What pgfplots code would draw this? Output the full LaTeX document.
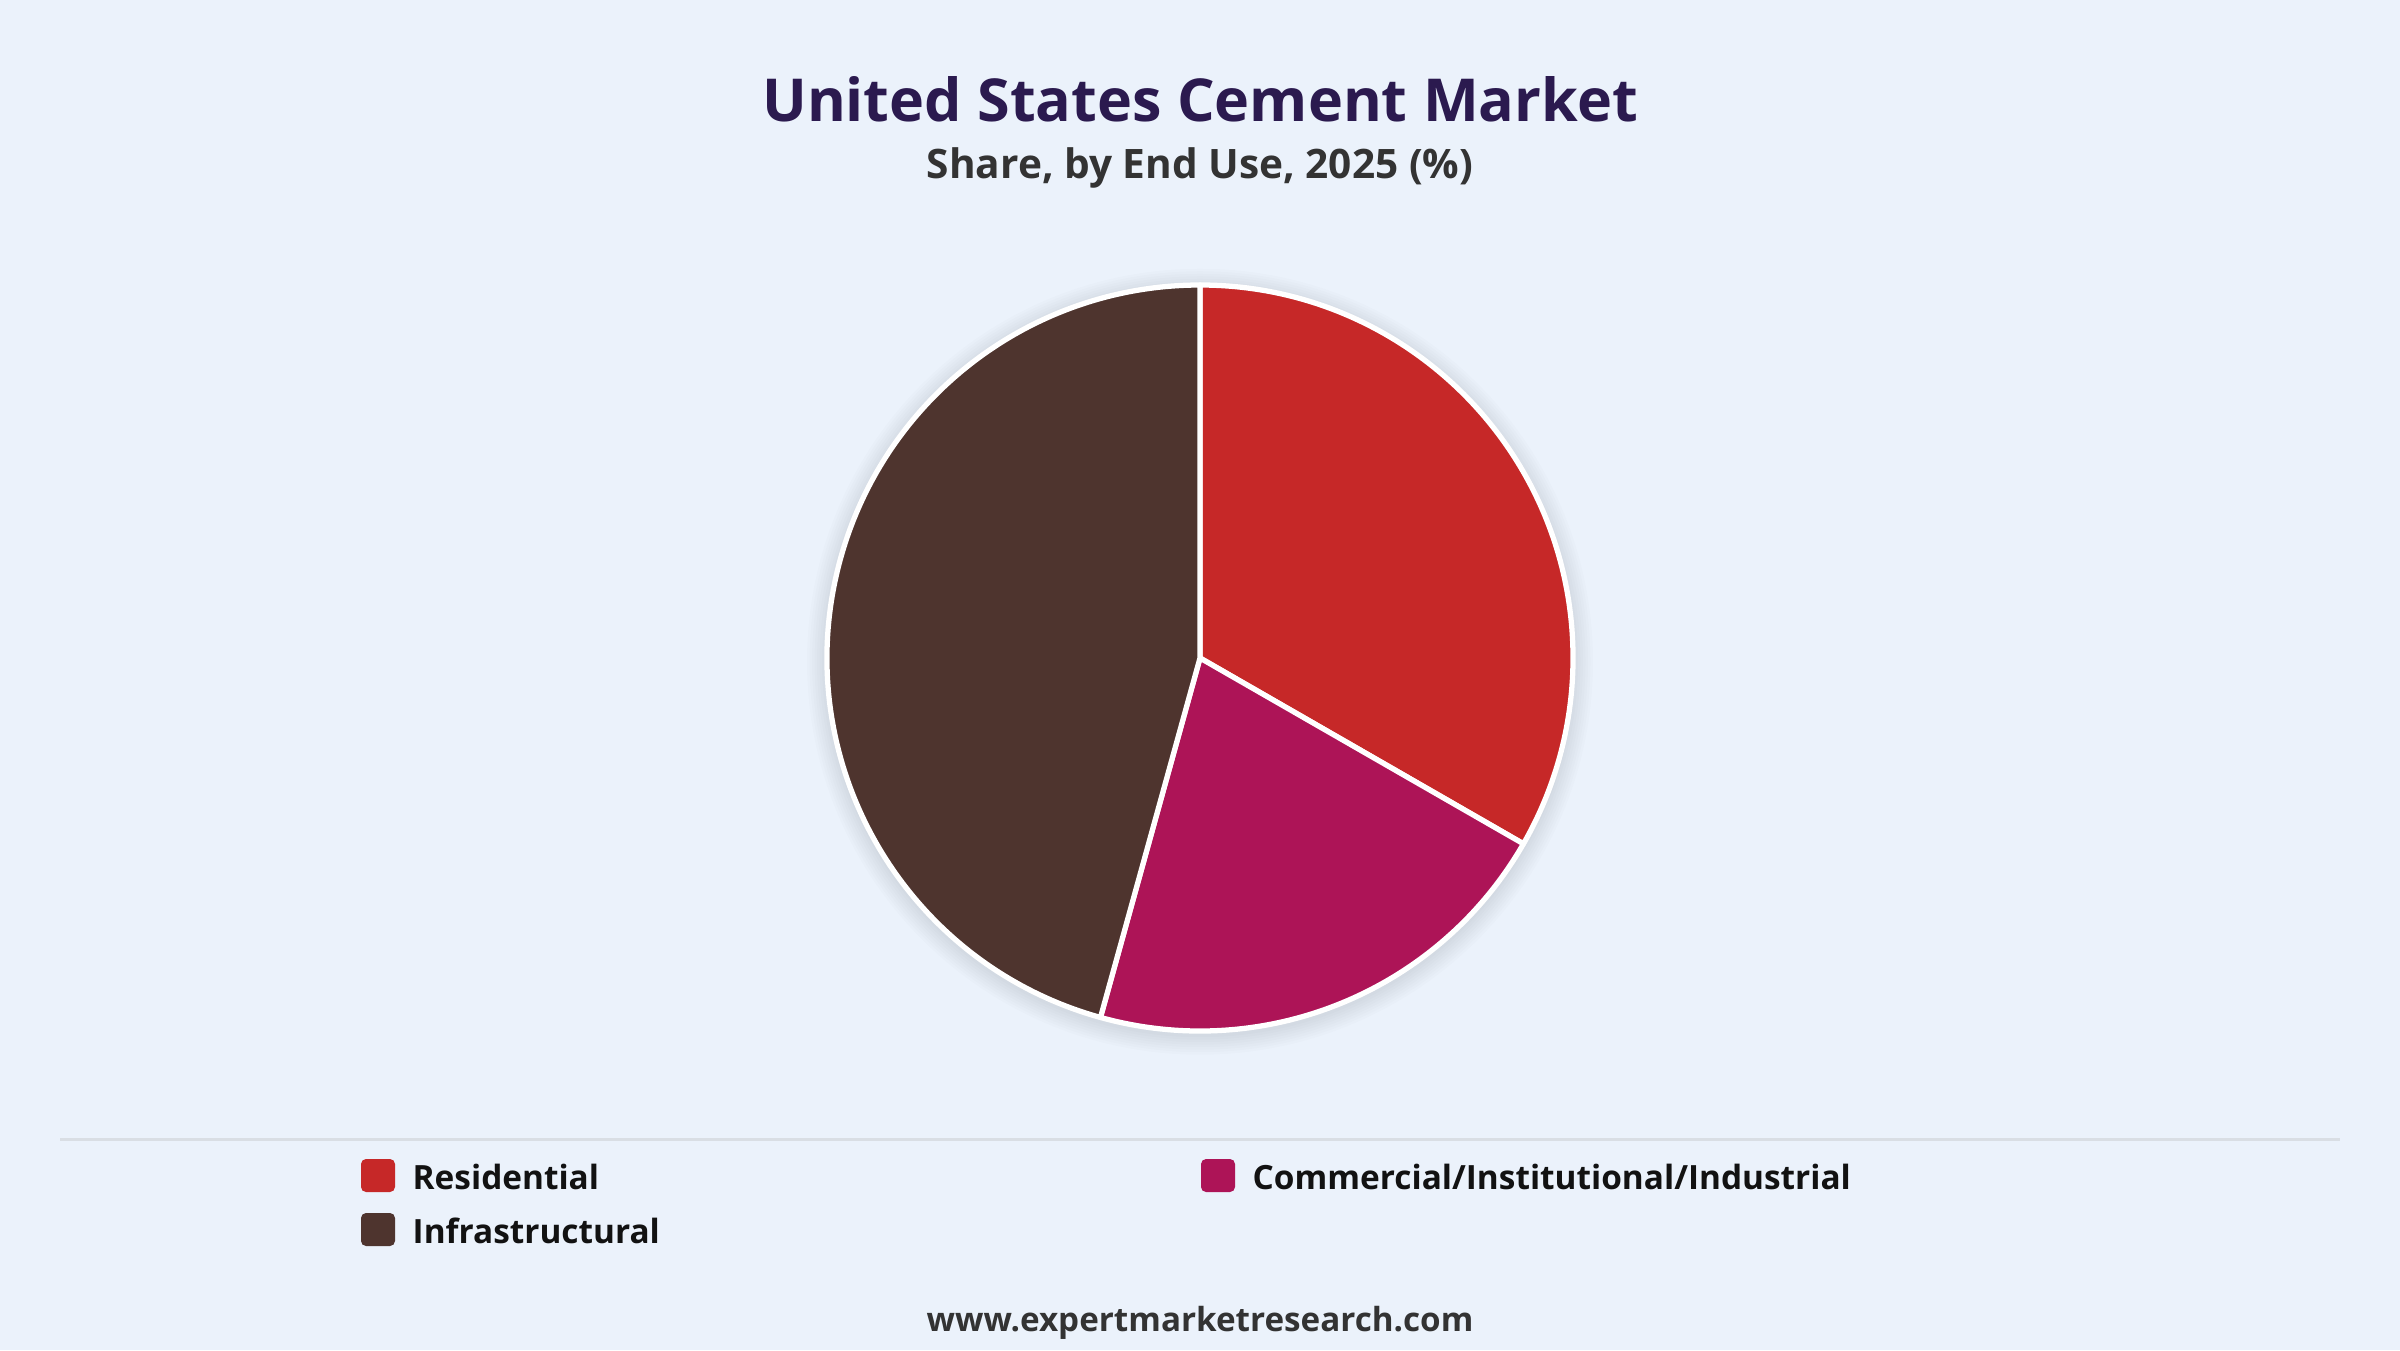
\documentclass[border=0pt]{standalone}
\usepackage{fontspec}
\setmainfont{Open Sans}
\usepackage{xcolor}
\usepackage{pgfplots}
\usepackage{pgfplotstable}
\pgfplotsset{compat=1.18}

\definecolor{bg}{HTML}{EBF2FB}
\definecolor{titlec}{HTML}{2B1A4F}
\definecolor{subc}{HTML}{333333}
\definecolor{resid}{HTML}{C62828}
\definecolor{comm}{HTML}{AD1457}
\definecolor{infra}{HTML}{4E342E}
\definecolor{sepc}{HTML}{D9DEE4}

% share by end use, 2025 (%)
\pgfplotstableread{
segment share
Residential 33.3
Commercial 21.0
Infrastructural 45.7
}\piedata

\pgfplotstablegetelem{0}{share}\of\piedata \pgfmathsetmacro\sA{\pgfplotsretval}
\pgfplotstablegetelem{1}{share}\of\piedata \pgfmathsetmacro\sB{\pgfplotsretval}
\pgfplotstablegetelem{2}{share}\of\piedata \pgfmathsetmacro\sC{\pgfplotsretval}
\pgfmathsetmacro\aA{90-3.6*\sA}
\pgfmathsetmacro\aB{\aA-3.6*\sB}
\pgfmathsetmacro\aC{\aB-3.6*\sC}

\newcommand\R{3.73cm}

\begin{document}
\begin{tikzpicture}[x=1cm,y=1cm]
\fill[bg] (0,0) rectangle (24,13.5);

\node[anchor=base, inner sep=0, text=titlec, font=\fontsize{16.85}{20}\selectfont\bfseries] at (12,12.28) {United States Cement Market};
\node[anchor=base, inner sep=0, text=subc, font=\fontsize{11.55}{14}\selectfont\bfseries] at (12,11.71) {Share, by End Use, 2025 (\%)};

\begin{axis}[at={(12cm,6.92cm)}, anchor=center, hide axis, scale only axis,
    width=7.46cm, height=7.46cm, xmin=-1, xmax=1, ymin=-1, ymax=1, clip=false]
  % soft shadow
  \pgfplotsinvokeforeach{1,...,8}{
    \fill[black, opacity=0.011] (axis cs:0,-0.01) circle[radius=\R+#1*0.025cm];
  }
  \fill[resid, draw=white, line width=1.5pt, line join=round]
    (axis cs:0,0) -- ++(90:\R) arc[start angle=90, end angle=\aA, radius=\R] -- cycle;
  \fill[comm, draw=white, line width=1.5pt, line join=round]
    (axis cs:0,0) -- ++(\aA:\R) arc[start angle=\aA, end angle=\aB, radius=\R] -- cycle;
  \fill[infra, draw=white, line width=1.5pt, line join=round]
    (axis cs:0,0) -- ++(\aB:\R) arc[start angle=\aB, end angle=\aC, radius=\R] -- cycle;
\end{axis}

\draw[sepc, line width=0.03cm] (0.6,2.11) -- (23.4,2.11);

\fill[resid, rounded corners=0.05cm] (3.61,1.58) rectangle ++(0.34,0.33);
\node[anchor=base west, inner sep=0, font=\fontsize{9.5}{12}\selectfont\bfseries, text=black!93] at (4.12,1.61) {Residential};
\fill[comm, rounded corners=0.05cm] (12.01,1.58) rectangle ++(0.34,0.33);
\node[anchor=base west, inner sep=0, font=\fontsize{9.5}{12}\selectfont\bfseries, text=black!93] at (12.52,1.61) {Commercial/Institutional/Industrial};
\fill[infra, rounded corners=0.05cm] (3.61,1.04) rectangle ++(0.34,0.33);
\node[anchor=base west, inner sep=0, font=\fontsize{9.5}{12}\selectfont\bfseries, text=black!93] at (4.12,1.07) {Infrastructural};

\node[anchor=base, inner sep=0, text=subc, font=\fontsize{9.45}{12}\selectfont\bfseries] at (12,0.19) {www.expertmarketresearch.com};
\end{tikzpicture}
\end{document}
